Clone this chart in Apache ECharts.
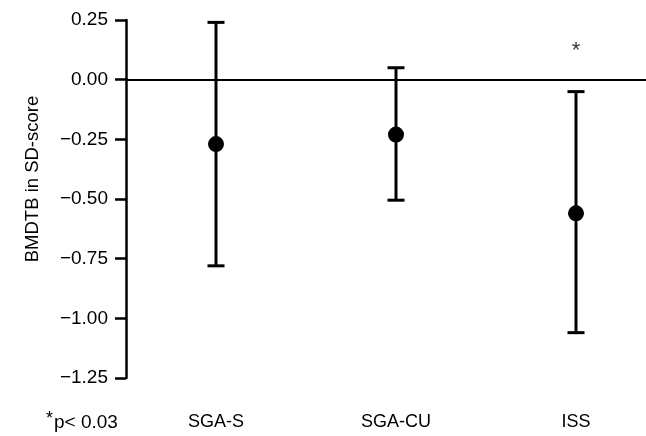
<!DOCTYPE html>
<html><head><meta charset="utf-8">
<script src="https://cdn.jsdelivr.net/npm/echarts@6/dist/echarts.min.js"></script>
<style>html,body{margin:0;padding:0;background:#fff}#c{width:646px;height:436px}</style>
</head><body><div id="c"></div>
<script>
var categories = ['SGA-S', 'SGA-CU', 'ISS'];
var means = [-0.27, -0.23, -0.56];
var upper = [0.24, 0.05, -0.05];
var lower = [-0.78, -0.505, -1.06];
var sigMarks = [null, null, 0.12];
var yTicks = {min: -1.25, max: 0.25, interval: 0.25};
var yName = 'BMDTB in SD-score';
var footnote = 'p< 0.03';

var FONT = 'Liberation Sans';
var chart = echarts.init(document.getElementById('c'), null, {renderer: 'canvas'});
var pos = categories.map(function (c, i) { return i + 1; });
var errData = categories.map(function (c, i) { return [pos[i], lower[i], upper[i]]; });
var meanData = categories.map(function (c, i) { return [pos[i], means[i]]; });
var sigData = [];
sigMarks.forEach(function (v, i) { if (v !== null) sigData.push([pos[i], v]); });

chart.setOption({
  animation: false,
  backgroundColor: '#fff',
  grid: {left: 126, right: 0, top: 20, bottom: 58, containLabel: false},
  xAxis: {
    type: 'value', min: 0.5, max: 3.3889,
    axisLine: {show: false}, axisTick: {show: false}, splitLine: {show: false},
    axisLabel: {customValues: pos, margin: 35, color: '#000', fontFamily: FONT, fontSize: 18,
      formatter: function (v) { return categories[Math.round(v) - 1] || ''; }}
  },
  yAxis: {
    type: 'value', min: yTicks.min, max: yTicks.max, interval: yTicks.interval,
    splitLine: {show: false},
    axisLine: {show: true, lineStyle: {color: '#000', width: 2.5}},
    axisTick: {show: true, length: 11, lineStyle: {color: '#000', width: 2.5}},
    axisLabel: {margin: 18, color: '#000', fontFamily: FONT, fontSize: 19,
      formatter: function (v) { return v.toFixed(2).replace('-', '\u2212'); }}
  },
  graphic: [
    {type: 'text', x: 33, y: 179, rotation: Math.PI / 2,
     style: {text: yName, fontFamily: FONT, fontSize: 18.5, fill: '#000', textAlign: 'center', textVerticalAlign: 'middle'}},
    {type: 'text', x: 46, y: 423,
     style: {text: '{s|*}{n|' + footnote + '}', fill: '#000', textVerticalAlign: 'middle',
       rich: {s: {fontFamily: FONT, fontSize: 18, verticalAlign: 'top', padding: [0, 1, 8, 0]},
              n: {fontFamily: FONT, fontSize: 19}}}}
  ],
  series: [
    {
      type: 'custom', data: errData, z: 2,
      renderItem: function (params, api) {
        var x = api.value(0);
        var lo = api.coord([x, api.value(1)]);
        var hi = api.coord([x, api.value(2)]);
        var hw = 8.5;
        var st = {stroke: '#000', lineWidth: 3};
        return {type: 'group', children: [
          {type: 'line', shape: {x1: lo[0], y1: lo[1], x2: hi[0], y2: hi[1]}, style: st},
          {type: 'line', shape: {x1: lo[0] - hw, y1: lo[1], x2: lo[0] + hw, y2: lo[1]}, style: st},
          {type: 'line', shape: {x1: hi[0] - hw, y1: hi[1], x2: hi[0] + hw, y2: hi[1]}, style: st}
        ]};
      }
    },
    {
      type: 'scatter', data: meanData, symbol: 'circle', symbolSize: 16, z: 3,
      itemStyle: {color: '#000', opacity: 1},
      markLine: {silent: true, symbol: 'none', label: {show: false},
        lineStyle: {color: '#000', width: 2, type: 'solid', opacity: 1},
        data: [{yAxis: 0}]}
    },
    {
      type: 'scatter', data: sigData, symbolSize: 0, z: 3,
      label: {show: true, position: 'inside', formatter: '*', color: '#000', fontFamily: FONT, fontSize: 22}
    }
  ]
});
</script></body></html>
